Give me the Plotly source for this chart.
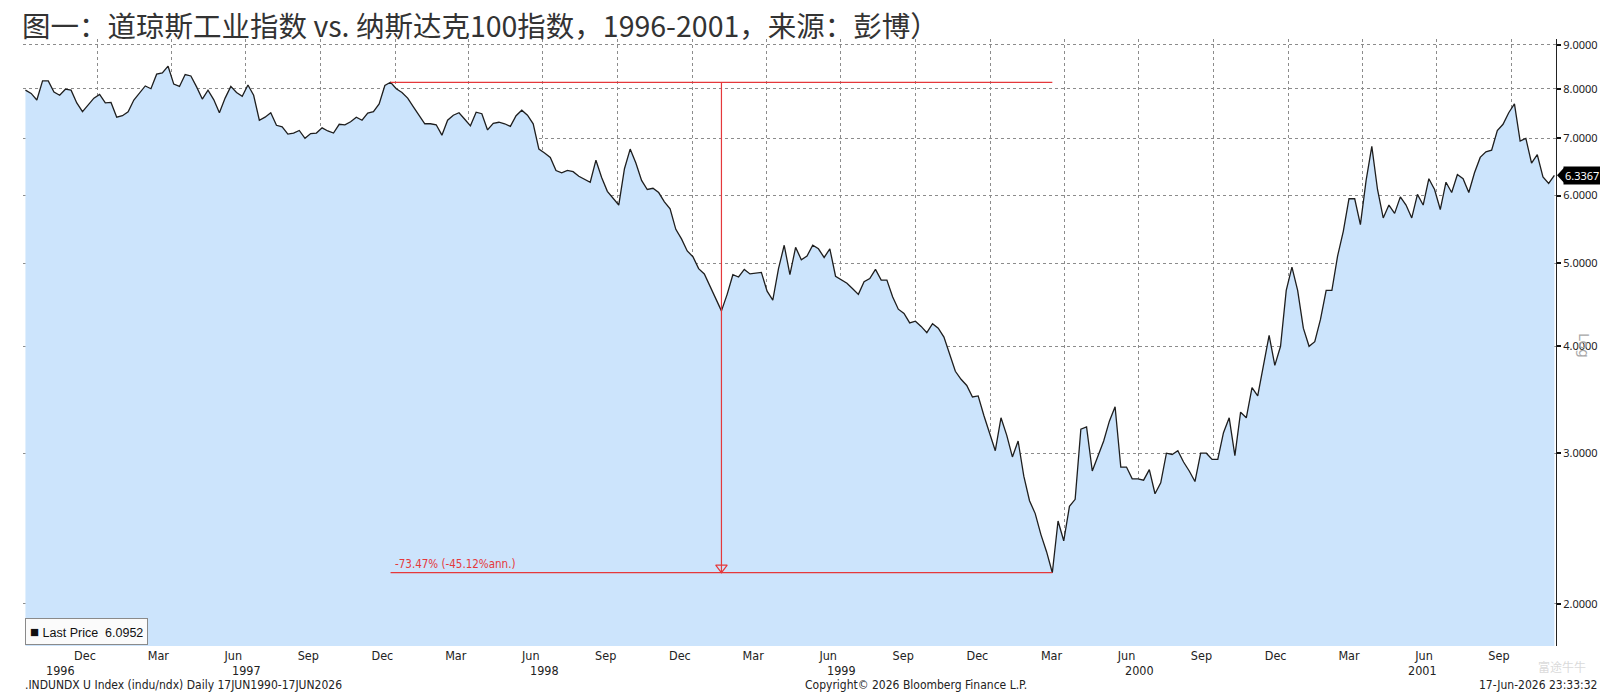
import numpy as np
import pandas as pd
import plotly.graph_objects as go

# ---------------- data (weekly readings of Dow / Nasdaq-100 ratio) ----------------
ratio_1996_1997 = [7.97, 7.90, 7.76, 8.17, 8.17, 7.93, 7.86, 7.99, 7.97, 7.70,
                   7.52, 7.65, 7.80, 7.88, 7.70, 7.71, 7.41, 7.44, 7.52, 7.76,
                   7.90, 8.06, 8.00, 8.32, 8.35, 8.50, 8.10, 8.05, 8.31, 8.28,
                   8.04, 7.78, 7.97, 7.77, 7.50, 7.80, 8.05, 7.92, 7.84, 8.08,
                   7.86, 7.35, 7.41, 7.50, 7.25, 7.22, 7.08, 7.10, 7.15, 7.00,
                   7.09, 7.10, 7.20, 7.14, 7.10, 7.27, 7.26, 7.32, 7.41, 7.35,
                   7.49, 7.52, 7.68, 8.07, 8.14, 8.00, 7.92, 7.80, 7.62, 7.46]
ratio_1998_1999 = [7.28, 7.28, 7.26, 7.06, 7.35, 7.45, 7.50, 7.37, 7.24, 7.51,
                   7.48, 7.16, 7.29, 7.31, 7.28, 7.23, 7.44, 7.55, 7.45, 7.28,
                   6.80, 6.73, 6.65, 6.42, 6.38, 6.42, 6.40, 6.32, 6.27, 6.22,
                   6.60, 6.30, 6.07, 5.95, 5.85, 6.45, 6.80, 6.55, 6.25, 6.10,
                   6.12, 6.05, 5.90, 5.79, 5.48, 5.34, 5.17, 5.09, 4.93, 4.86,
                   4.70, 4.55, 4.40, 4.60, 4.85, 4.82, 4.92, 4.86, 4.87, 4.88,
                   4.64, 4.53, 4.93, 5.25, 4.85, 5.22]
ratio_1999_2000 = [5.05, 5.10, 5.25, 5.20, 5.08, 5.20, 4.83, 4.78, 4.74, 4.67,
                   4.60, 4.76, 4.80, 4.92, 4.78, 4.78, 4.57, 4.42, 4.37, 4.26,
                   4.28, 4.22, 4.15, 4.25, 4.20, 4.10, 3.92, 3.74, 3.66, 3.60,
                   3.49, 3.50, 3.32, 3.17, 3.02, 3.30, 3.15, 2.97, 3.10, 2.82,
                   2.64, 2.55, 2.41, 2.30, 2.175, 2.50, 2.37, 2.60, 2.65, 3.20,
                   3.22, 2.86, 2.98, 3.10, 3.27, 3.40, 2.89, 2.89, 2.80, 2.80,
                   2.79, 2.87, 2.69, 2.77, 3.00, 2.99, 3.02]
ratio_2000_2001 = [2.93, 2.86, 2.78, 3.00, 3.00, 2.95, 2.95, 3.17, 3.30, 2.98,
                   3.35, 3.30, 3.58, 3.50, 3.78, 4.12, 3.80, 4.00, 4.65, 4.95,
                   4.65, 4.20, 4.00, 4.05, 4.30, 4.65, 4.65, 5.10, 5.45, 5.95,
                   5.95, 5.55, 6.25, 6.85, 6.10, 5.65, 5.85, 5.72, 5.98, 5.85,
                   5.65, 6.02, 5.85, 6.28, 6.10, 5.78, 6.22, 6.05, 6.35, 6.28,
                   6.05, 6.38, 6.65, 6.75, 6.78, 7.15, 7.27, 7.50, 7.68, 6.95,
                   7.00, 6.55, 6.70, 6.31, 6.20, 6.3367]

ratio = ratio_1996_1997 + ratio_1998_1999 + ratio_1999_2000 + ratio_2000_2001
dates = pd.date_range("1996-10-04", periods=len(ratio), freq="7D")

y_tick_values = [2, 3, 4, 5, 6, 7, 8, 9]
y_tick_labels = ["2.0000", "3.0000", "4.0000", "5.0000", "6.0000", "7.0000", "8.0000", "9.0000"]
year_labels = ["1996", "1997", "1998", "1999", "2000", "2001"]
legend_last_price = "6.0952"
drawdown_text = "-73.47% (-45.12%ann.)"

title_text = "图一：道琼斯工业指数 vs. 纳斯达克100指数，1996-2001，来源：彭博）"
footer_left = ".INDUNDX U Index (indu/ndx) Daily 17JUN1990-17JUN2026"
footer_mid = "Copyright© 2026 Bloomberg Finance L.P."
footer_right = "17-Jun-2026 23:33:32"

# ---------------- layout geometry ----------------
W, H = 1600, 692
ML, MR, MT, MB = 23, 44, 39, 46
PW, PH = W - ML - MR, H - MT - MB
x_range = [pd.Timestamp("1996-10-01"), pd.Timestamp("2001-11-25")]
y_range = [0.2518, 0.9612]
px_per_decade = PH / (y_range[1] - y_range[0])


def paper_x(px):
    return (px - ML) / PW


def paper_y(py):
    return (H - MB - py) / PH


NARROW = "Liberation Sans Narrow, DejaVu Sans Condensed, Arial Narrow, sans-serif"

ratio_arr = np.array(ratio)
i_trough = int(np.argmin(ratio_arr))
mask = (dates >= pd.Timestamp("1997-10-01")) & (np.arange(len(ratio)) < i_trough)
i_peak = int(np.argmax(np.where(mask, ratio_arr, -np.inf)))
peak_val, trough_val = ratio_arr[i_peak], ratio_arr[i_trough]
d_peak, d_trough = dates[i_peak], dates[i_trough]
d_mid = d_peak + (d_trough - d_peak) / 2

month_ticks = pd.date_range("1996-12-01", "2001-09-01", freq="3MS") + pd.Timedelta(days=15)
month_text = [d.strftime("%b") for d in month_ticks]
grid_dates = pd.date_range("1996-10-01", "2001-10-01", freq="QS")

fig = go.Figure()
fig.add_trace(go.Scatter(
    x=dates, y=ratio, mode="lines",
    line=dict(color="#1e1e1e", width=1.3),
    fill="tozeroy", fillcolor="#CCE4FC", hoverinfo="skip"))

red = "#E5383B"
fig.add_trace(go.Scatter(x=[d_peak, d_trough], y=[peak_val, peak_val], mode="lines",
                         line=dict(color=red, width=1.2), hoverinfo="skip"))
fig.add_trace(go.Scatter(x=[d_peak, d_trough], y=[trough_val, trough_val], mode="lines",
                         line=dict(color=red, width=1.2), hoverinfo="skip"))
fig.add_trace(go.Scatter(x=[d_mid, d_mid], y=[peak_val, trough_val], mode="lines",
                         line=dict(color=red, width=1.2), hoverinfo="skip"))
fig.add_trace(go.Scatter(x=[d_mid], y=[trough_val * 10 ** (5 / px_per_decade)], mode="markers",
                         marker=dict(symbol="triangle-down-open", size=10, color=red,
                                     line=dict(width=1.2, color=red)),
                         hoverinfo="skip"))

annotations = []
# drawdown text
annotations.append(dict(x=d_peak, y=np.log10(trough_val), xref="x", yref="y",
                        text=drawdown_text, showarrow=False, xanchor="left", yanchor="bottom",
                        xshift=2, yshift=0, font=dict(family=NARROW, size=11.5, color=red)))
# year labels
for lab in year_labels:
    y0 = max(pd.Timestamp(f"{lab}-01-01"), x_range[0])
    y1 = min(pd.Timestamp(f"{int(lab) + 1}-01-01"), x_range[1])
    annotations.append(dict(x=y0 + (y1 - y0) / 2, y=paper_y(670), xref="x", yref="paper",
                            text=lab, showarrow=False, xanchor="center", yanchor="middle",
                            font=dict(family=NARROW, size=12.5, color="#222")))
# legend box
annotations.append(dict(x=paper_x(25), y=paper_y(645), xref="paper", yref="paper",
                        text=("<span style='font-size:15px'>■</span> Last Price  "
                              + legend_last_price),
                        showarrow=False, xanchor="left", yanchor="bottom",
                        font=dict(family="Liberation Sans, Arial, sans-serif", size=12.5, color="#111"),
                        bgcolor="#fbfbfb", bordercolor="#8a8a8a", borderwidth=1, borderpad=4))
# last value label
annotations.append(dict(x=1, y=np.log10(ratio[-1]), xref="paper", yref="y",
                        text=f"{ratio[-1]:.4f}", showarrow=False, xanchor="left", yanchor="middle",
                        xshift=7, font=dict(family="Noto Sans, DejaVu Sans", size=11, color="white"),
                        bgcolor="#000", borderpad=1))
# Log marker
annotations.append(dict(x=1, y=paper_y(345), xref="paper", yref="paper", text="Log",
                        showarrow=False, textangle=90, xanchor="center", yanchor="middle",
                        xshift=28, font=dict(family="DejaVu Sans", size=14, color="#a8a8a8")))
# footers
annotations.append(dict(x=paper_x(23), y=paper_y(685), xref="paper", yref="paper",
                        text=footer_left, showarrow=False, xanchor="left", yanchor="middle",
                        font=dict(family=NARROW, size=12, color="#222")))
annotations.append(dict(x=paper_x(803), y=paper_y(685), xref="paper", yref="paper",
                        text=footer_mid, showarrow=False, xanchor="left", yanchor="middle",
                        font=dict(family=NARROW, size=12, color="#222")))
annotations.append(dict(x=paper_x(1599), y=paper_y(685), xref="paper", yref="paper",
                        text=footer_right, showarrow=False, xanchor="right", yanchor="middle",
                        font=dict(family=NARROW, size=12, color="#222")))
# watermark
annotations.append(dict(x=paper_x(1562), y=paper_y(666), xref="paper", yref="paper",
                        text="富途牛牛", showarrow=False, xanchor="center", yanchor="middle",
                        font=dict(family="Noto Sans CJK SC", size=12, color="rgba(180,180,180,0.5)")))

# arrow wedge of last-value label
ly = (np.log10(ratio[-1]) - y_range[0]) / (y_range[1] - y_range[0])
shapes = [dict(type="path", xref="paper", yref="paper",
               path=(f"M {1 + 1 / PW} {ly} L {1 + 8 / PW} {ly + 7.5 / PH} "
                     f"L {1 + 8 / PW} {ly - 7.5 / PH} Z"),
               fillcolor="#000", line=dict(width=0))]

fig.update_layout(
    width=W, height=H,
    margin=dict(l=ML, r=MR, t=MT, b=MB, autoexpand=False),
    paper_bgcolor="white", plot_bgcolor="white",
    showlegend=False, hovermode=False,
    title=dict(text=title_text, x=22 / W, xanchor="left", y=1 - 27.5 / H, yanchor="middle",
               xref="container", yref="container",
               font=dict(family="Noto Sans CJK SC", size=28.5, color="#333")),
    annotations=annotations,
    shapes=shapes,
    xaxis=dict(type="date", range=x_range, tickmode="array", tickvals=month_ticks,
               ticktext=month_text, ticks="", showgrid=False, showline=False, zeroline=False,
               automargin=False,
               tickfont=dict(family=NARROW, size=12.5, color="#222"),
               minor=dict(tickmode="array", tickvals=grid_dates, showgrid=True,
                          gridcolor="#8c8c8c", griddash="dot", gridwidth=1, ticks="")),
    yaxis=dict(type="log", side="right", range=y_range, tickmode="array",
               tickvals=y_tick_values, ticktext=y_tick_labels,
               showgrid=True, gridcolor="#8c8c8c", griddash="dot", gridwidth=1,
               ticks="outside", ticklen=4, tickwidth=2, tickcolor="#111",
               showline=True, linecolor="#222", linewidth=1, zeroline=False,
               automargin=False,
               tickfont=dict(family="Noto Sans, DejaVu Sans", size=11, color="#222")),
)

fig.write_html("out.html")
